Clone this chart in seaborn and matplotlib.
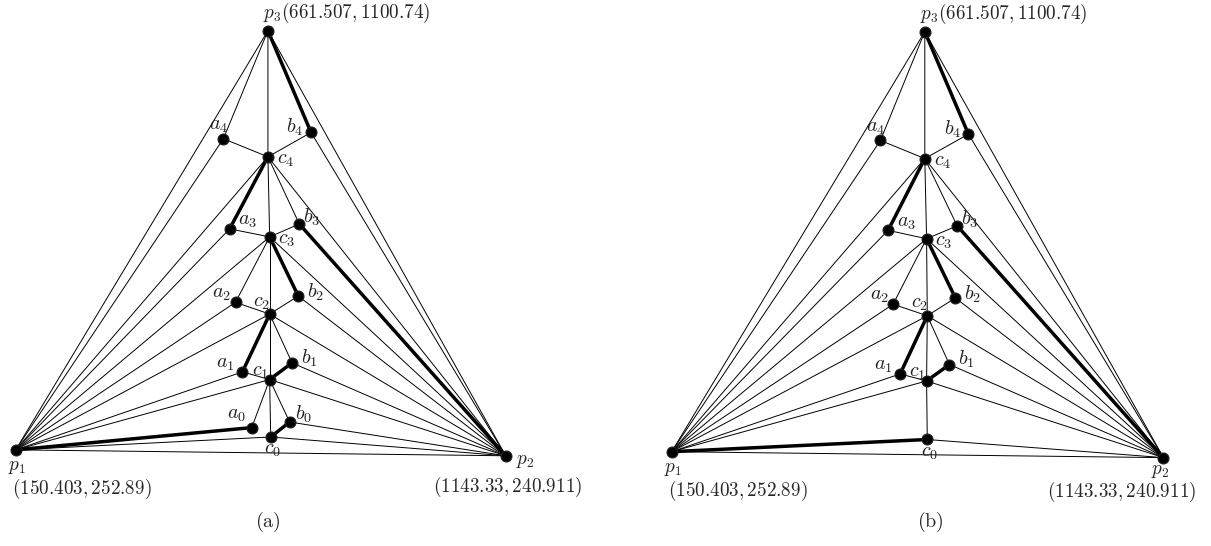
import matplotlib
matplotlib.use("Agg")
import matplotlib.pyplot as plt
import seaborn as sns
import pandas as pd

# node coordinates (data units, same frame as p1/p2/p3)
names_a = ['p1', 'p2', 'p3', 'a4', 'b4', 'c4', 'a3', 'b3', 'c3',
           'a2', 'b2', 'c2', 'a1', 'b1', 'c1', 'a0', 'b0', 'c0']
x_a = [150.403, 1143.33, 661.507, 571.3, 748.9, 661.5, 583.9, 725.1, 665.0,
       595.8, 723.0, 665.0, 609.8, 710.4, 665.0, 628.7, 705.5, 667.1]
y_a = [252.89, 240.911, 1100.74, 882.3, 894.9, 845.7, 699.9, 709.8, 683.7,
       551.4, 564.1, 527.5, 410.6, 428.9, 395.1, 297.9, 309.2, 278.9]

names_b = ['p1', 'p2', 'p3', 'a4', 'b4', 'c4', 'a3', 'b3', 'c3',
           'a2', 'b2', 'c2', 'a1', 'b1', 'c1', 'c0']
x_b = [150.403, 1143.33, 661.507, 571.9, 749.6, 661.5, 587.4, 726.9, 665.1,
       597.5, 723.3, 666.5, 611.7, 711.3, 665.1, 666.5]
y_b = [252.89, 240.911, 1100.74, 881.2, 893.9, 844.6, 699.7, 708.8, 682.8,
       550.5, 563.2, 527.3, 409.8, 428.8, 395.7, 277.5]

thin_a = [('p1', 'p2'), ('p1', 'p3'), ('p2', 'p3'),
          ('p3', 'a4'), ('p3', 'c4'), ('p1', 'a4'), ('a4', 'c4'), ('c4', 'b4'), ('b4', 'p2'),
          ('p1', 'c4'), ('p2', 'c4'), ('c4', 'c3'), ('c4', 'b3'),
          ('p1', 'a3'), ('a3', 'c3'), ('c3', 'b3'),
          ('p1', 'c3'), ('p2', 'c3'), ('c3', 'a2'), ('c3', 'c2'),
          ('p1', 'a2'), ('a2', 'c2'), ('c2', 'b2'), ('b2', 'p2'),
          ('p1', 'c2'), ('p2', 'c2'), ('c2', 'b1'), ('c2', 'c1'),
          ('p1', 'a1'), ('a1', 'c1'), ('b1', 'p2'),
          ('p1', 'c1'), ('p2', 'c1'), ('c1', 'a0'), ('c1', 'b0'), ('c1', 'c0'),
          ('b0', 'p2'), ('p1', 'c0'), ('p2', 'c0')]
thick_a = [('p3', 'b4'), ('c4', 'a3'), ('b3', 'p2'), ('c3', 'b2'),
           ('c2', 'a1'), ('c1', 'b1'), ('p1', 'a0'), ('c0', 'b0')]

thin_b = [('p1', 'p2'), ('p1', 'p3'), ('p2', 'p3'),
          ('p3', 'a4'), ('p3', 'c4'), ('p1', 'a4'), ('a4', 'c4'), ('c4', 'b4'), ('b4', 'p2'),
          ('p1', 'c4'), ('p2', 'c4'), ('c4', 'c3'), ('c4', 'b3'),
          ('p1', 'a3'), ('a3', 'c3'), ('c3', 'b3'),
          ('p1', 'c3'), ('p2', 'c3'), ('c3', 'a2'), ('c3', 'c2'),
          ('p1', 'a2'), ('a2', 'c2'), ('c2', 'b2'), ('b2', 'p2'),
          ('p1', 'c2'), ('p2', 'c2'), ('c2', 'b1'), ('c2', 'c1'),
          ('p1', 'a1'), ('a1', 'c1'), ('b1', 'p2'),
          ('p1', 'c1'), ('p2', 'c1'), ('c1', 'c0'), ('p2', 'c0')]
thick_b = [('p3', 'b4'), ('c4', 'a3'), ('b3', 'p2'), ('c3', 'b2'),
           ('c2', 'a1'), ('c1', 'b1'), ('p1', 'c0')]

# label offsets in pixels (layout only)
lab_off = {'a4': (-5, 13), 'b4': (-16, 5), 'c4': (18, -3),
           'a3': (18, 8), 'b3': (12, 7), 'c3': (17, -3),
           'a2': (-14, 9), 'b2': (17, 4), 'c2': (-8, 12),
           'a1': (-17, 8), 'b1': (17, 5), 'c1': (-9, 8),
           'a0': (-15, 13), 'b0': (14, 8), 'c0': (2, -13)}

sns.set_style("white")
plt.rcParams['mathtext.fontset'] = 'cm'
plt.rcParams['font.family'] = ['DejaVu Serif']

fig = plt.figure(figsize=(12.11, 5.46), dpi=100)


def draw(ax, names, xs, ys, thin, thick, caption, p2_right):
    pos = dict(zip(names, zip(xs, ys)))
    for edges, lw in [(thin, 0.7), (thick, 2.5)]:
        rows = []
        for i, (u, v) in enumerate(edges):
            rows.append((i, pos[u][0], pos[u][1]))
            rows.append((i, pos[v][0], pos[v][1]))
        df = pd.DataFrame(rows, columns=['edge', 'x', 'y'])
        sns.lineplot(data=df, x='x', y='y', units='edge', estimator=None, sort=False,
                     color='black', linewidth=lw, ax=ax, legend=False)
    nodes = pd.DataFrame({'x': xs, 'y': ys})
    sns.scatterplot(data=nodes, x='x', y='y', s=62, color='black', edgecolor='#222222',
                    linewidth=0.8, ax=ax, zorder=5, legend=False)
    for n in names:
        if n in lab_off:
            ax.annotate('$%s_%s$' % (n[0], n[1]), pos[n], xytext=lab_off[n],
                        textcoords='offset pixels', ha='center', va='center',
                        fontsize=14.5, color='#222222')
    fs = 13.8
    ax.annotate(r'$p_3(661.507, 1100.74)$', pos['p3'], xytext=(-5, 18),
                textcoords='offset pixels', ha='left', va='center', fontsize=fs)
    ax.annotate(r'$p_1$', pos['p1'], xytext=(1, -17),
                textcoords='offset pixels', ha='center', va='center', fontsize=fs)
    ax.annotate(r'$(150.403, 252.89)$', pos['p1'], xytext=(-4, -39),
                textcoords='offset pixels', ha='left', va='center', fontsize=fs)
    if p2_right:
        ax.annotate(r'$p_2$', pos['p2'], xytext=(10, -5),
                    textcoords='offset pixels', ha='left', va='center', fontsize=fs)
        ax.annotate(r'$(1143.33, 240.911)$', pos['p2'], xytext=(-73, -31),
                    textcoords='offset pixels', ha='left', va='center', fontsize=fs)
    else:
        ax.annotate(r'$p_2$', pos['p2'], xytext=(-3, -13),
                    textcoords='offset pixels', ha='center', va='center', fontsize=fs)
        ax.annotate(r'$(1143.33, 240.911)$', pos['p2'], xytext=(33, -34),
                    textcoords='offset pixels', ha='right', va='center', fontsize=fs)
    ax.text(0.5, 0.044, caption, transform=ax.transAxes, ha='center', va='center', fontsize=14.5)
    ax.set_axis_off()


ax1 = fig.add_axes([0, 0, 540 / 1211, 1])
draw(ax1, names_a, x_a, y_a, thin_a, thick_a, r'$\mathrm{(a)}$', True)
ax1.set_xlim(118.6, 1212.8)
ax1.set_ylim(58.4, 1162.9)
ax1.texts[-1].set_position((268 / 540, 1 - 522 / 546))

ax2 = fig.add_axes([655 / 1211, 0, 556 / 1211, 1])
draw(ax2, names_b, x_b, y_b, thin_b, thick_b, r'$\mathrm{(b)}$', False)
ax2.set_xlim(116.7, 1239.4)
ax2.set_ylim(62.5, 1164.7)
ax2.texts[-1].set_position(((930 - 655) / 556, 1 - 522 / 546))

fig.savefig("out.png", dpi=100)
